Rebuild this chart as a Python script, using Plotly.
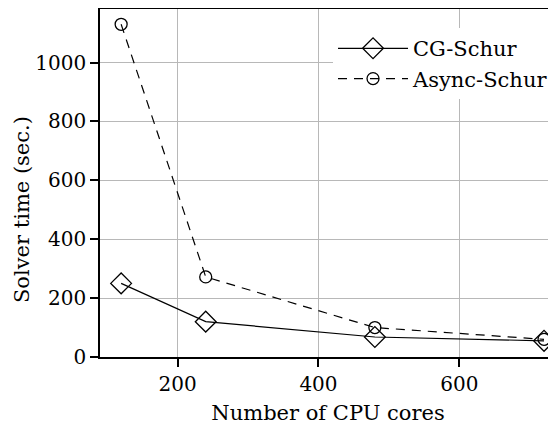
import plotly.graph_objects as go

cores = [120, 240, 480, 720]
cg_schur = [250, 120, 68, 55]
async_schur = [1130, 272, 100, 60]

FONT = "DejaVu Serif"
FS = 20

fig = go.Figure()
fig.add_trace(go.Scatter(
    x=cores, y=cg_schur, name="CG-Schur", mode="lines+markers",
    line=dict(color="black", width=1.2),
    marker=dict(symbol="diamond-open", size=16, color="black", line=dict(width=1.3)),
))
fig.add_trace(go.Scatter(
    x=cores, y=async_schur, name="Async-Schur", mode="lines+markers",
    line=dict(color="black", width=1.2, dash="9px,7px"),
    marker=dict(symbol="circle-open", size=12, color="black", line=dict(width=1.3)),
))

fig.update_layout(
    template="none",
    width=548, height=417,
    margin=dict(l=92, r=0, t=1, b=68),
    paper_bgcolor="white", plot_bgcolor="white",
    font=dict(family=FONT, size=FS, color="black"),
    showlegend=True,
    legend=dict(
        x=0.511, y=0.945, xanchor="left", yanchor="top",
        bgcolor="white", borderwidth=0,
        font=dict(family=FONT, size=21, color="black"),
        tracegroupgap=0, itemwidth=70,
    ),
    xaxis=dict(
        automargin=False,
        range=[90, 737],
        tickvals=[200, 400, 600],
        showgrid=True, gridcolor="#b8b8b8", gridwidth=1,
        showline=True, linecolor="black", linewidth=1.5, mirror=True,
        ticks="outside", ticklen=8, tickcolor="black", tickwidth=1.5,
        zeroline=False,
        title=dict(text="Number of CPU cores", standoff=14,
                   font=dict(family=FONT, size=21, color="black")),
        tickfont=dict(family=FONT, size=FS, color="black"),
    ),
    yaxis=dict(
        automargin=False,
        range=[0, 1182],
        tickvals=[0, 200, 400, 600, 800, 1000],
        showgrid=True, gridcolor="#b8b8b8", gridwidth=1,
        showline=True, linecolor="black", linewidth=1.5, mirror=False,
        ticks="outside", ticklen=8, tickcolor="black", tickwidth=1.5,
        zeroline=False,
        tickfont=dict(family=FONT, size=FS, color="black"),
    ),
    annotations=[dict(
        text="Solver time (sec.)", textangle=-90,
        xref="paper", yref="paper", x=-0.171, y=0.4224,
        xanchor="center", yanchor="middle", showarrow=False,
        font=dict(family=FONT, size=21, color="black"),
    )],
)

fig.write_html("out.html")
